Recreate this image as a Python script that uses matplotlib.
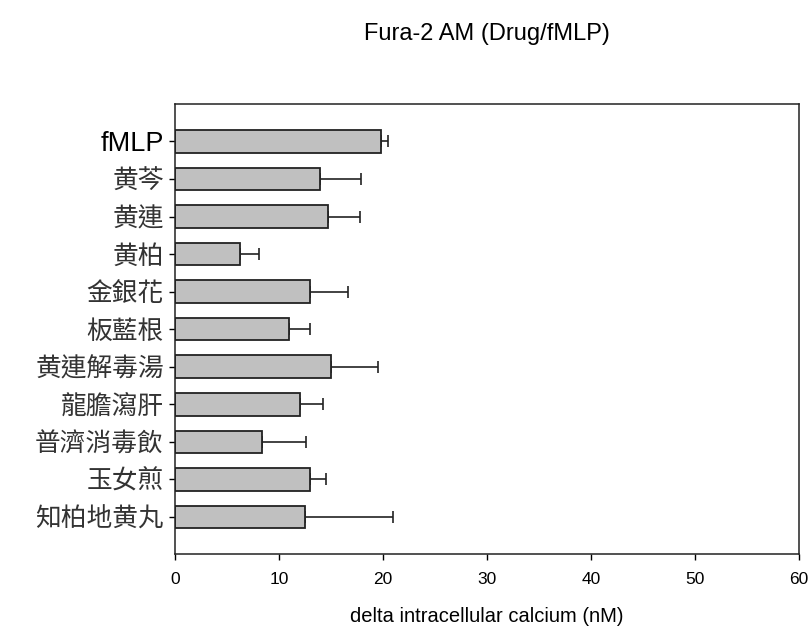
import numpy as np
import matplotlib
matplotlib.use('Agg')
import matplotlib.pyplot as plt

plt.rcParams['font.family'] = ['Liberation Sans', 'Noto Sans CJK TC', 'DejaVu Sans']

# treatments, top to bottom
labels = ['fMLP', '黄芩', '黄連', '黄柏', '金銀花', '板藍根', '黄連解毒湯',
          '龍膽瀉肝', '普濟消毒飲', '玉女煎', '知柏地黄丸']
# mean delta intracellular calcium (nM)
means = [19.8, 14.0, 14.7, 6.3, 13.0, 11.0, 15.0, 12.0, 8.4, 13.0, 12.5]
# upper error (nM)
errs = [0.7, 3.9, 3.1, 1.8, 3.6, 2.0, 4.5, 2.25, 4.2, 1.5, 8.5]

fig = plt.figure(figsize=(8.1, 6.3), dpi=100)
ax = fig.add_axes([0.216, 0.120, 0.770, 0.715])

ypos = np.arange(len(labels))
ax.barh(ypos, means, height=0.6, color='#c0c0c0', edgecolor='#222222',
        linewidth=1.3, zorder=2)
ax.errorbar(means, ypos, xerr=[np.zeros(len(errs)), errs], fmt='none',
            ecolor='#222222', elinewidth=1.2, capsize=4.3, capthick=1.2,
            zorder=1)

ax.set_xlim(0, 60)
ax.set_ylim(11, -1)
ax.set_xticks([0, 10, 20, 30, 40, 50, 60])
ax.set_yticks(ypos)
ax.set_yticklabels(labels)
for i, t in enumerate(ax.get_yticklabels()):
    if i == 0:
        t.set_fontsize(19.5)
    else:
        t.set_fontsize(18.5)
        t.set_color('#333333')
ax.tick_params(axis='x', labelsize=12.5, length=4, width=1, pad=9)
ax.tick_params(axis='y', length=4, width=1, pad=4)
for s in ax.spines.values():
    s.set_linewidth(1.1)
    s.set_color('#222222')

ax.set_xlabel('delta intracellular calcium (nM)', fontsize=14.5, labelpad=14)
fig.text(0.601, 0.946, 'Fura-2 AM (Drug/fMLP)', ha='center', va='center',
         fontsize=17)

fig.savefig('out.png', dpi=100)
